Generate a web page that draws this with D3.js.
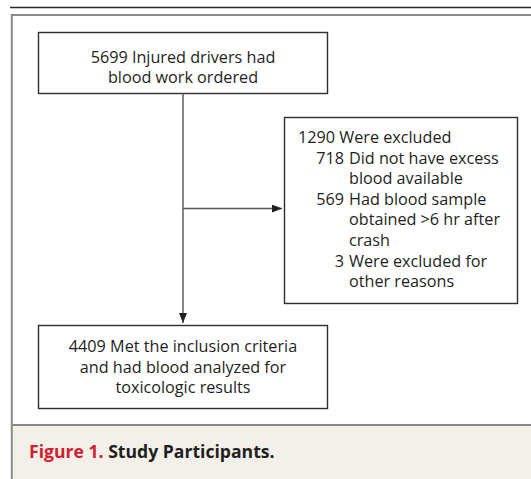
<!DOCTYPE html>
<html>
<head>
<meta charset="utf-8">
<script src="https://cdn.jsdelivr.net/npm/d3@7"></script>
<style>
  html, body { margin: 0; padding: 0; background: #fff; }
  svg { display: block; }
</style>
</head>
<body>
<svg id="chart" width="531" height="479"></svg>
<script>
// ---- data ----
const counts = [5699, 1290, 718, 569, 3, 4409];
const topBoxLines = ["5699 Injured drivers had", "blood work ordered"];
const excludedHeader = ["1290 Were excluded"];
const excludedItems = [
  ["718 Did not have excess", "blood available"],
  ["569 Had blood sample", "obtained >6 hr after", "crash"],
  ["3 Were excluded for", "other reasons"]
];
const bottomBoxLines = ["4409 Met the inclusion criteria", "and had blood analyzed for", "toxicologic results"];
const captionLabel = "Figure 1.";
const captionTitle = "Study Participants.";

// ---- layout ----
const W = 531, H = 479;
const svg = d3.select("#chart");
const font = "'Open Sans', 'Noto Sans', sans-serif";
const textColor = "#231f20";
const fs = 16.2;

// arrowhead marker
const defs = svg.append("defs");
defs.append("marker")
  .attr("id", "arrow")
  .attr("viewBox", "0 0 10 8")
  .attr("refX", 10).attr("refY", 4)
  .attr("markerWidth", 10).attr("markerHeight", 8)
  .attr("markerUnits", "userSpaceOnUse")
  .attr("orient", "auto")
  .append("path").attr("d", "M0,0 L10,4 L0,8 Z").attr("fill", "#231f20");

// caption background
svg.append("rect").attr("x", 12).attr("y", 425).attr("width", W - 12).attr("height", H - 425)
  .attr("fill", "#f3f0ea");

// top black rule
svg.append("line").attr("x1", 10).attr("x2", W).attr("y1", 7.5).attr("y2", 7.5)
  .attr("stroke", "#2a2a2a").attr("stroke-width", 1.3);
// frame
svg.append("path").attr("d", `M${W},15 H11.8 V${H}`).attr("fill", "none")
  .attr("stroke", "#8a8a8a").attr("stroke-width", 2);
svg.append("line").attr("x1", 11).attr("x2", W).attr("y1", 425).attr("y2", 425)
  .attr("stroke", "#8a8a8a").attr("stroke-width", 2);

// boxes
const boxes = [
  { id: "top", x0: 38.5, y0: 32.5, x1: 327.5, y1: 93.5 },
  { id: "excl", x0: 284.5, y0: 117.5, x1: 517.5, y1: 303.5 },
  { id: "bottom", x0: 38.5, y0: 325.5, x1: 327.5, y1: 408.5 }
];
svg.selectAll("rect.box").data(boxes).enter().append("rect")
  .attr("class", "box")
  .attr("x", d => d.x0).attr("y", d => d.y0)
  .attr("width", d => d.x1 - d.x0).attr("height", d => d.y1 - d.y0)
  .attr("fill", "#fff").attr("stroke", "#2f2f2f").attr("stroke-width", 1.4);

// connectors
const cx = 183;
const branchY = 208.5;
svg.append("line").attr("x1", cx).attr("x2", cx).attr("y1", 93.5).attr("y2", 323)
  .attr("stroke", "#555").attr("stroke-width", 1.4).attr("marker-end", "url(#arrow)");
svg.append("line").attr("x1", cx).attr("x2", 282).attr("y1", branchY).attr("y2", branchY)
  .attr("stroke", "#555").attr("stroke-width", 1.4).attr("marker-end", "url(#arrow)");

// centered box text
function centered(lines, cxp, baseline0, lh) {
  svg.append("g").selectAll("text").data(lines).enter().append("text")
    .attr("x", cxp).attr("y", (d, i) => baseline0 + i * lh)
    .attr("text-anchor", "middle")
    .attr("font-family", font).attr("font-size", fs)
    .attr("fill", textColor).text(d => d);
}
centered(topBoxLines, 183, 62.5, 20.7);
centered(bottomBoxLines, 183, 352, 20.7);

// exclusion text (number right-aligned, hanging indent)
const exLH = 20.6;
const exBase = 143;
const numRight = 344;
const textLeft = 349;
const exLines = [];
exLines.push({ num: null, text: excludedHeader[0], header: true });
excludedItems.forEach(item => {
  item.forEach((t, i) => {
    if (i === 0) {
      const sp = t.indexOf(" ");
      exLines.push({ num: t.slice(0, sp), text: t.slice(sp + 1) });
    } else {
      exLines.push({ num: null, text: t });
    }
  });
});
const exG = svg.append("g").attr("font-family", font).attr("font-size", fs).attr("fill", textColor);
exLines.forEach((l, i) => {
  const yy = exBase + i * exLH;
  if (l.header) {
    exG.append("text").attr("x", 298).attr("y", yy).text(l.text);
  } else {
    if (l.num) {
      exG.append("text").attr("x", numRight).attr("y", yy).attr("text-anchor", "end").text(l.num);
    }
    exG.append("text").attr("x", textLeft).attr("y", yy).text(l.text);
  }
});

// caption
const cap = svg.append("text").attr("x", 29).attr("y", 458)
  .attr("font-family", font).attr("font-size", 17.6).attr("font-weight", 700);
cap.append("tspan").attr("fill", "#d3202f").text(captionLabel + " ");
cap.append("tspan").attr("fill", "#231f20").text(captionTitle);
</script>
</body>
</html>
